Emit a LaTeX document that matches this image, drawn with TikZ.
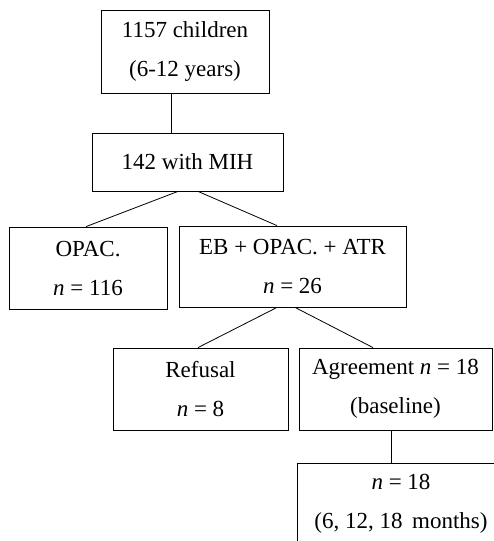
\documentclass[tikz,border=0pt]{standalone}
\usepackage{fontspec}
\setmainfont{Liberation Serif}
\tikzset{
    box/.style={draw, line width=0.8pt, align=center, inner sep=0pt,
        font=\fontsize{23}{39}\selectfont},
    link/.style={line width=0.8pt}
}
\begin{document}
\begin{tikzpicture}[x=1pt, y=-1pt]
            \useasboundingbox (0, 0) rectangle (494, 541);
            \clip (0, 0) rectangle (494, 541);

            \node[box, minimum width=168pt, minimum height=83pt] (total) at (185, 51.5) {1157 children\\(6-12 years)};
            \node[box, minimum width=191pt, minimum height=58pt] (mih) at (187.5, 162) {142 with MIH};

            \node[box, minimum width=158pt, minimum height=82pt] (opac) at (88, 268) {OPAC.\\\textit{n} = 116};
            \node[box, minimum width=227pt, minimum height=81pt] (ebopac) at (292.5, 266.5) {EB + OPAC. + ATR\\\textit{n} = 26};

            \node[box, minimum width=175pt, minimum height=82pt] (refusal) at (200.5, 389) {Refusal\\\textit{n} = 8};
            \node[box, minimum width=193pt, minimum height=82pt] (agree) at (395.5, 389) {Agreement \textit{n} = 18\\(baseline)};

            \node[box, minimum width=208pt, minimum height=82pt] (follow) at (401, 504) {\textit{n} = 18\\(6, 12, 18\, months)};

            \draw[link] ([xshift=-14pt]total.south) -- ([xshift=-16.5pt]mih.north);
            \draw[link] ([xshift=-9.5pt]mih.south) -- ([xshift=-2pt]opac.north);
            \draw[link] ([xshift=10.5pt]mih.south) -- ([xshift=-15.5pt]ebopac.north);
            \draw[link] ([xshift=-15.5pt]ebopac.south) -- ([xshift=-2.5pt]refusal.north);
            \draw[link] ([xshift=2.5pt]ebopac.south) -- ([xshift=-22.5pt]agree.north);
            \draw[link] ([xshift=-4.5pt]agree.south) -- ([xshift=-10pt]follow.north);

        \end{tikzpicture}
\end{document}
